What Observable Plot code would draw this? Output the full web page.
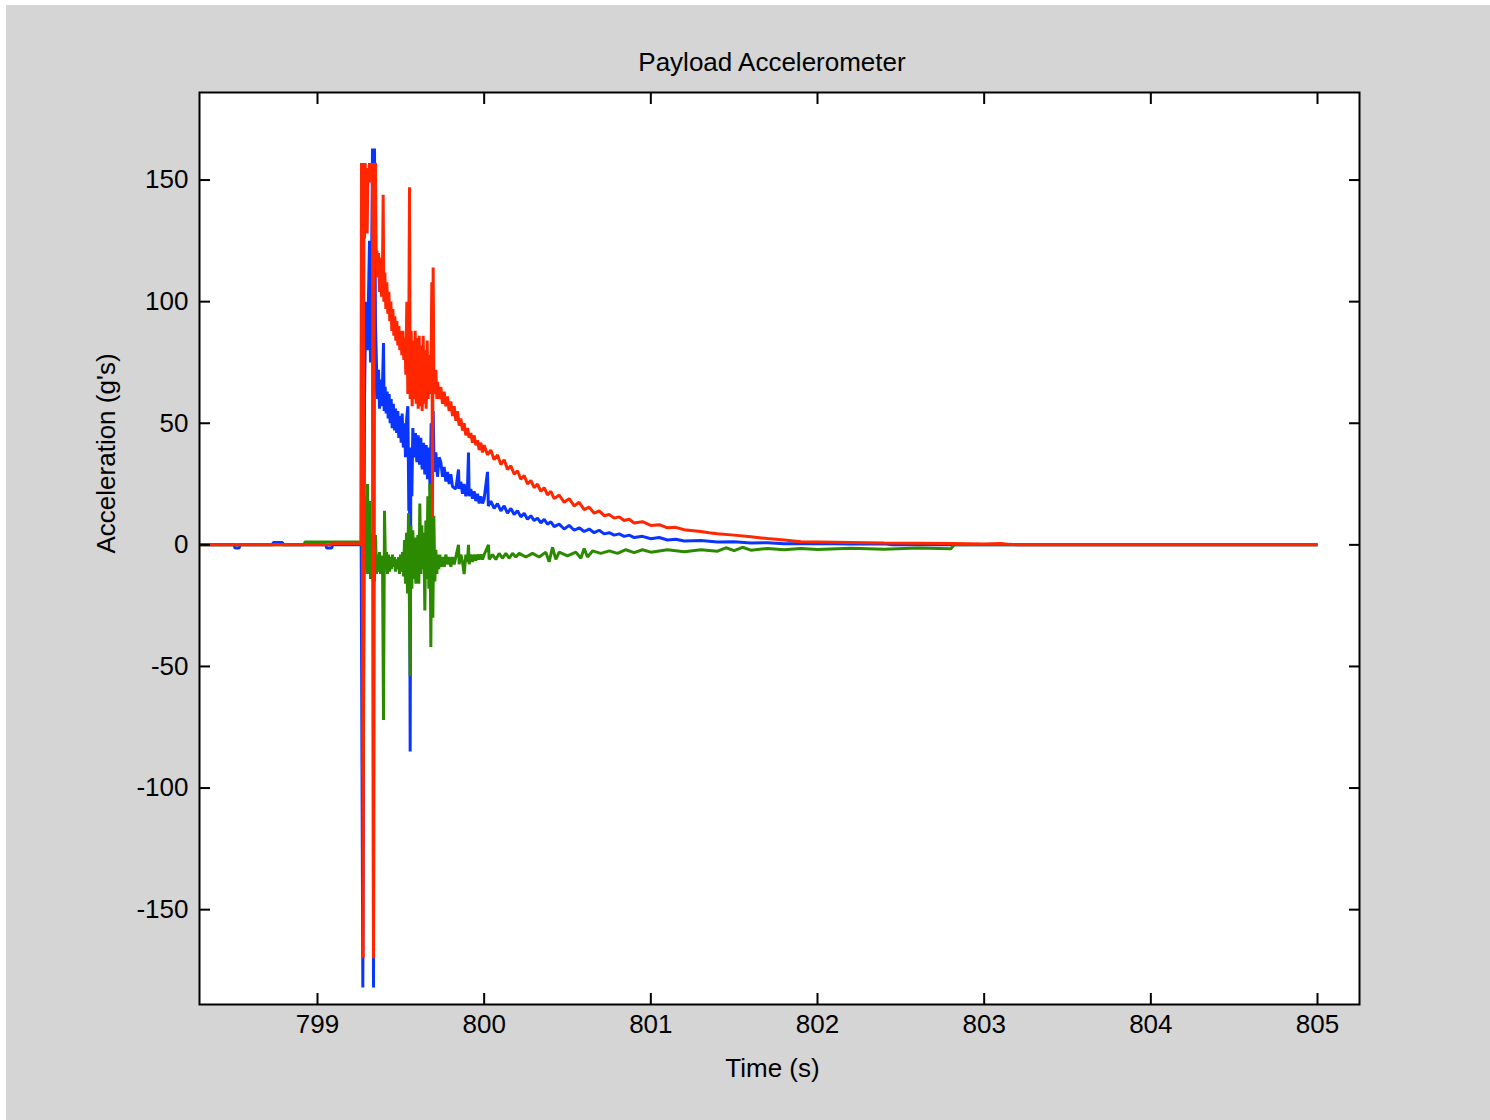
<!DOCTYPE html>
<html>
<head>
<meta charset="utf-8">
<script src="https://cdn.jsdelivr.net/npm/d3@7"></script>
<script src="https://cdn.jsdelivr.net/npm/@observablehq/plot@0.6"></script>
<style>
html, body { margin: 0; padding: 0; background: #ffffff; }
#fig { position: absolute; left: 6px; top: 5px; width: 1484px; height: 1115px; background: #d5d5d5;
       font-family: "Liberation Sans", Arial, sans-serif; color: #000; }
#title { position: absolute; left: 766px; top: 42px; transform: translateX(-50%); white-space: nowrap;
         font-size: 26px; line-height: 30px; }
#chart { position: absolute; left: 0; top: 77px; }
</style>
</head>
<body>
<div id="fig">
  <div id="title">Payload Accelerometer</div>
  <div id="chart"></div>
</div>
<script>
// ---- Data (time in s, acceleration in g's) ----
const titleText = "Payload Accelerometer";
const xLabel = "Time (s)";
const yLabel = "Acceleration (g's)";
const xTicks = [799, 800, 801, 802, 803, 804, 805];
const yTicks = [-150, -100, -50, 0, 50, 100, 150];
const xDomain = [798.292, 805.252];
const yDomain = [-189, 186];

const blueReadings = [
  [798.292,0],[798.50,0],[798.505,-1.3],[798.53,-1.3],[798.535,0],[798.73,0],[798.735,1],[798.79,1],[798.795,0],
  [799.05,0],[799.055,-1.3],[799.085,-1.3],[799.09,0],[799.262,0],
  [799.272,-182],[799.282,60],[799.290,100],[799.300,80],[799.312,125],[799.318,75],[799.324,110],[799.330,163],
  [799.336,-182],[799.342,163],[799.348,90],[799.354,74],[799.360,60],[799.366,72],[799.372,56],[799.378,68],
  [799.384,57],[799.390,66],[799.396,83],[799.400,55],[799.406,65],[799.412,54],[799.418,63],[799.424,52],
  [799.430,62],[799.436,50],[799.442,60],[799.448,48],[799.455,58],[799.462,47],[799.468,56],[799.475,46],
  [799.482,55],[799.488,44],[799.495,53],[799.502,42],[799.508,54],[799.515,40],[799.522,50],[799.528,36],
  [799.535,52],[799.542,57],[799.548,14],[799.552,30],[799.556,-85],[799.560,40],[799.566,20],[799.572,48],
  [799.580,36],[799.588,46],[799.596,34],[799.604,45],[799.612,33],[799.620,44],[799.628,31],[799.636,42],
  [799.644,29],[799.652,41],[799.660,27],[799.668,40],[799.676,22],[799.682,50],[799.688,21],[799.694,55],
  [799.700,30],[799.710,38],[799.720,28],[799.730,36],
  [799.74,34],[799.75,28],[799.76,32],[799.77,26],[799.78,30],[799.79,25],[799.80,29],[799.81,24],[799.83,23],
  [799.846,31],[799.85,23],[799.86,26],[799.87,21],[799.88,25],[799.89,20],[799.90,24],[799.906,38],[799.91,20],
  [799.92,23],[799.93,19],[799.94,22],[799.95,18],[799.96,21],[799.97,17],[799.98,20],[799.99,17],[800.00,19],
  [800.02,30],[800.025,16],[800.04,18],[800.06,15],[800.08,17],[800.10,14],[800.12,16],[800.14,13],[800.16,15],
  [800.18,12.5],[800.20,14],[800.22,11.5],[800.24,13],[800.26,10.5],[800.28,12],[800.30,10],[800.32,11],
  [800.34,9],[800.36,10.5],[800.38,8.5],[800.40,9.5],[800.42,7.5],[800.45,8.5],[800.48,6.5],[800.51,8],
  [800.54,6],[800.57,7],[800.60,5.5],[800.63,6.5],[800.66,5],[800.69,6],[800.72,4.5],[800.75,5],[800.78,4],
  [800.81,4.5],[800.84,3.5],[800.87,4],[800.90,3],[800.95,3.5],[801.00,2.5],[801.05,3],[801.10,2],[801.15,2.3],
  [801.20,1.6],[801.30,1.8],[801.40,1.2],[801.50,1.3],[801.60,0.8],[801.70,0.9],[801.80,0.5],[802.00,0.6],
  [802.20,0.3],[802.40,0.4],[802.45,0],[805.00,0]
];

const greenReadings = [
  [798.292,0],[798.92,0],[798.925,1.2],[799.25,1.2],[799.258,0],[799.264,0],
  [799.268,25],[799.274,-95],[799.280,20],[799.286,-10],[799.292,15],[799.298,-12],[799.300,25],[799.306,-12],
  [799.312,18],[799.318,-14],[799.324,5],[799.330,-10],[799.336,2],[799.342,-15],[799.348,4],[799.354,-12],
  [799.360,-4],[799.366,-11],[799.372,-3],[799.378,-12],[799.384,-5],[799.390,-5],[799.396,-72],[799.402,14],
  [799.408,-10],[799.414,-3],[799.420,-12],[799.426,-4],[799.432,-11],[799.438,-5],[799.444,-10],[799.450,-4],
  [799.456,-9],[799.462,-5],[799.468,-11],[799.474,-6],[799.480,-10],[799.486,-5],[799.492,-12],[799.498,-4],
  [799.504,-11],[799.510,-3],[799.516,-13],[799.522,2],[799.528,-16],[799.534,5],[799.540,-20],[799.546,13],
  [799.556,-54],[799.560,8],[799.566,-18],[799.572,6],[799.578,-14],[799.584,3],[799.590,-16],[799.596,-8],
  [799.602,4],[799.608,-16],[799.614,17],[799.620,-12],[799.626,8],[799.632,-10],[799.638,5],[799.644,-27],
  [799.650,10],[799.656,-14],[799.662,20],[799.668,-18],[799.674,25],[799.680,-42],[799.686,22],[799.692,-30],
  [799.698,12],[799.704,-15],[799.710,-2],[799.716,-12],[799.722,-4],[799.728,-10],[799.734,-4],[799.740,-9],
  [799.75,-5],[799.76,-9],[799.77,-4],[799.78,-8],[799.79,-5],[799.80,-9],[799.81,-5],[799.82,-8],[799.83,-5],
  [799.846,0],[799.85,-8],[799.86,-4],[799.87,-7],[799.88,-12],[799.89,-4],[799.90,-7],[799.906,0],[799.91,-8],
  [799.92,-4],[799.93,-7],[799.94,-4],[799.95,-6.5],[799.96,-4],[799.97,-6],[799.98,-4],[799.99,-6],[800.00,-4],
  [800.026,0],[800.03,-6],[800.05,-4],[800.07,-6],[800.09,-3.5],[800.11,-5.5],[800.13,-3.5],[800.15,-5.5],
  [800.17,-3.5],[800.19,-5],[800.21,-3.5],[800.25,-5],[800.29,-3.5],[800.33,-5],[800.37,-3],[800.39,-7],
  [800.41,-1],[800.43,-6],[800.45,-3],[800.50,-4.5],[800.55,-3],[800.58,-5.5],[800.60,-1.5],[800.62,-5],
  [800.65,-2.5],[800.70,-3.5],[800.75,-2.5],[800.80,-3.5],[800.85,-2],[800.90,-3.2],[800.95,-2],[801.00,-3],
  [801.10,-2],[801.20,-2.8],[801.30,-2],[801.40,-2.6],[801.45,-1.2],[801.50,-2.4],[801.55,-1],[801.60,-2.2],
  [801.70,-1.5],[801.80,-2],[801.90,-1.5],[802.00,-1.9],[802.20,-1.4],[802.40,-1.8],[802.60,-1.3],[802.80,-1.6],
  [802.82,0],[805.00,0]
];

const redReadings = [
  [798.292,0],[799.08,0],[799.085,0.5],[799.26,0.5],
  [799.264,157],[799.268,130],[799.270,157],[799.274,-170],[799.278,157],[799.282,126],[799.286,157],
  [799.290,130],[799.294,155],[799.298,128],[799.302,150],[799.306,149],[799.312,157],[799.318,149],
  [799.324,157],[799.330,152],[799.336,-170],[799.340,157],[799.344,120],[799.348,157],[799.352,118],
  [799.356,121],[799.360,110],[799.366,120],[799.372,104],[799.378,118],
  [799.384,102],[799.390,114],[799.394,144],[799.398,100],[799.404,112],[799.410,97],[799.416,108],[799.422,95],
  [799.428,104],[799.434,92],[799.440,100],[799.446,88],[799.452,97],[799.458,86],[799.464,94],[799.470,84],
  [799.476,92],[799.482,82],[799.488,90],[799.494,80],[799.500,88],[799.506,78],[799.512,88],[799.518,76],
  [799.524,85],[799.530,70],[799.536,100],[799.542,62],[799.548,90],[799.552,147],[799.556,60],[799.562,88],
  [799.568,57],[799.574,84],[799.580,60],[799.586,88],[799.592,58],[799.598,85],[799.604,56],[799.610,86],
  [799.616,57],[799.622,82],[799.628,55],[799.634,86],[799.640,58],[799.646,80],[799.652,56],[799.658,84],
  [799.664,60],[799.670,78],[799.676,62],[799.682,80],[799.686,108],[799.690,11],[799.694,114],[799.698,70],
  [799.704,62],[799.710,72],[799.716,60],
  [799.72,67],[799.73,60],[799.74,65],[799.75,58],[799.76,63],[799.77,57],[799.78,61],[799.79,55],[799.80,59],
  [799.81,53],[799.82,57],[799.83,51],[799.84,55],[799.85,49],[799.86,52],[799.87,47],[799.88,50],[799.89,45],
  [799.90,48],[799.91,44],[799.92,46],[799.93,42],[799.94,45],[799.95,41],[799.96,43],[799.97,39],[799.98,42],
  [799.99,38],[800.00,41],[800.02,37],[800.04,39],[800.06,35],[800.08,37],[800.10,33],[800.12,35],[800.14,31],
  [800.16,32.5],[800.18,29],[800.20,30.5],[800.22,27],[800.24,28.5],[800.26,25],[800.28,26.5],[800.30,23.5],
  [800.32,25],[800.34,22],[800.36,23.5],[800.38,20.5],[800.40,22],[800.42,19],[800.45,20.5],[800.48,17.5],
  [800.51,19],[800.54,16],[800.57,17.5],[800.60,14.5],[800.63,15.5],[800.66,13],[800.69,14],[800.72,12],
  [800.75,12.5],[800.78,11],[800.81,11.5],[800.84,10],[800.87,10.5],[800.90,9],[800.95,9.5],[801.00,8],
  [801.05,8.3],[801.10,7],[801.15,7.2],[801.20,6.2],[801.30,5.5],[801.35,5],[801.40,4.6],[801.50,4],
  [801.60,3.3],[801.70,2.6],[801.80,2],[801.90,1.3],[802.00,1.2],[802.20,1],[802.40,0.8],[802.60,0.7],
  [802.80,0.6],[803.00,0.4],[803.10,0.6],[803.15,0.2],[803.20,0],[805.00,0]
];

const seriesColors = { blue: "#0a35ff", green: "#2c8a00", red: "#ff2600" };

const toRows = (arr) => arr.map(([time, accel]) => ({ time, accel }));
const blueRows = toRows(blueReadings);
const greenRows = toRows(greenReadings);
const redRows = toRows(redReadings);

const lineStyle = { x: "time", y: "accel", strokeWidth: 3, strokeLinejoin: "miter", strokeLinecap: "butt" };
const fmt = (d) => String(d);

const chart = Plot.plot({
  width: 1484,
  height: 1038,
  marginLeft: 193,
  marginRight: 131,
  marginTop: 10,
  marginBottom: 116,
  style: { background: "transparent", fontFamily: "'Liberation Sans', Arial, sans-serif", fontSize: "26px", color: "#000" },
  x: { domain: xDomain },
  y: { domain: yDomain },
  marks: [
    Plot.frame({ fill: "white", stroke: "white" }),
    Plot.line(blueRows, { ...lineStyle, stroke: seriesColors.blue }),
    Plot.line(greenRows, { ...lineStyle, stroke: seriesColors.green }),
    Plot.line(redRows, { ...lineStyle, stroke: seriesColors.red }),
    Plot.frame({ stroke: "black", strokeWidth: 2 }),
    Plot.axisX({ anchor: "bottom", ticks: xTicks, tickSize: -11, tickPadding: 21, strokeWidth: 2, tickFormat: fmt, label: null }),
    Plot.axisX({ anchor: "top", ticks: xTicks, tickSize: -11, strokeWidth: 2, tickFormat: () => "", label: null }),
    Plot.axisY({ anchor: "left", ticks: yTicks, tickSize: -11, tickPadding: 22, strokeWidth: 2, tickFormat: fmt, label: null }),
    Plot.axisY({ anchor: "right", ticks: yTicks, tickSize: -11, strokeWidth: 2, tickFormat: () => "", label: null }),
    Plot.text([xLabel], { text: d => d, frameAnchor: "bottom", dx: -7, dy: 64, lineAnchor: "middle", fontSize: 26 }),
    Plot.text([yLabel], { text: d => d, frameAnchor: "left", rotate: -90, dx: -93, dy: 5, lineAnchor: "middle", fontSize: 26 })
  ]
});
document.getElementById("chart").appendChild(chart);
document.getElementById("title").textContent = titleText;
</script>
</body>
</html>
